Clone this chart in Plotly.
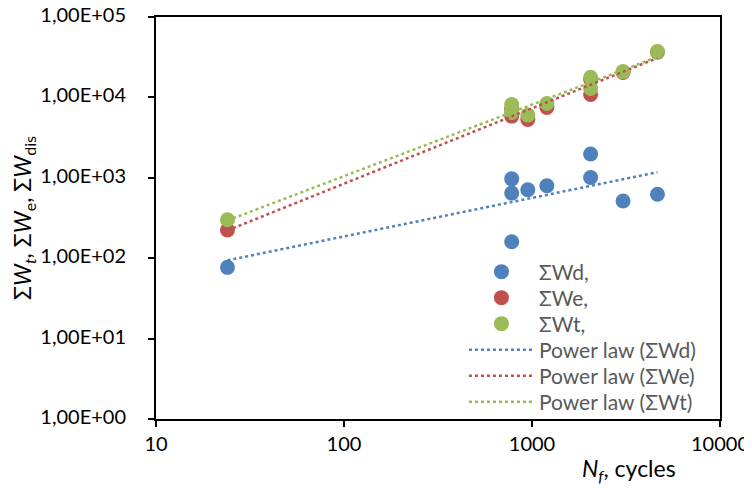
import numpy as np
import plotly.graph_objects as go

# Data
N_f = [24, 780, 780, 780, 950, 1200, 2050, 2050, 3050, 4650]
W_d = [77, 970, 645, 160, 710, 795, 1010, 1980, 515, 625]
W_e = [224, 7200, 5850, 6800, 5310, 7500, 16800, 10900, 20400, 36600]
W_t = [301, 8170, 6495, 6960, 6020, 8400, 17810, 12880, 20950, 37250]

y_tickvals = [1, 10, 100, 1000, 10000, 100000]
y_ticktext = ["1,00E+00", "1,00E+01", "1,00E+02", "1,00E+03", "1,00E+04", "1,00E+05"]
x_tickvals = [10, 100, 1000, 10000]
x_ticktext = ["10", "100", "1000", "10000"]

series = [
    ("ΣWd,", "Power law (ΣWd)", W_d, "#4F81BD"),
    ("ΣWe,", "Power law (ΣWe)", W_e, "#C0504D"),
    ("ΣWt,", "Power law (ΣWt)", W_t, "#9BBB59"),
]

FONT = "Lato, Carlito, Calibri, sans-serif"
# page body has an 8px margin; compensate
W, H = 744, 480
L, R, T, B = 148, 32, 9, 69
PW = W - L - R
PH = H - T - B

# legend rows (screen y of each entry centre)
ROW_Y = [272, 298, 324, 350, 376, 402]
legend_ids = ["legend", "legend2", "legend3", "legend4", "legend5", "legend6"]

fig = go.Figure()
k = 0
for i, (name, _, vals, col) in enumerate(series):
    fig.add_trace(go.Scatter(
        x=N_f, y=vals, mode="markers", name=name,
        marker=dict(size=15, color=col), legend=legend_ids[k],
    ))
    k += 1

x_arr = np.array(N_f, dtype=float)
for i, (_, tname, vals, col) in enumerate(series):
    b, a = np.polyfit(np.log10(x_arr), np.log10(np.array(vals, dtype=float)), 1)
    xs = np.array([x_arr.min(), x_arr.max()])
    ys = 10 ** (a + b * np.log10(xs))
    fig.add_trace(go.Scatter(
        x=xs, y=ys, mode="lines", name=tname,
        line=dict(color=col, width=2.5, dash="dot"), legend=legend_ids[k],
    ))
    k += 1

leg_common = dict(
    xanchor="left", yanchor="middle",
    bgcolor="rgba(0,0,0,0)", borderwidth=0,
    font=dict(family=FONT, size=21, color="#595959"),
    itemwidth=65,
)
legends = {}
for lid, ry in zip(legend_ids, ROW_Y):
    legends[lid] = dict(x=0.546, y=(T + 8 + PH - ry) / PH, **leg_common)

fig.update_layout(
    width=W, height=H,
    margin=dict(l=L, r=R, t=T, b=B, autoexpand=False),
    paper_bgcolor="white", plot_bgcolor="white",
    font=dict(family=FONT, size=20, color="#000000"),
    showlegend=True,
    annotations=[dict(
        text="<i>N<sub>f</sub></i>, cycles",
        x=(629 - 8 - L) / PW, xref="paper", y=0, yref="paper",
        showarrow=False, font=dict(family=FONT, size=23, color="#000000"),
        xanchor="center", yanchor="top", yshift=-33,
    )],
    **legends,
)

fig.update_xaxes(
    type="log", range=[1, 4], automargin=False,
    tickvals=x_tickvals, ticktext=x_ticktext, ticklabeloverflow="allow",
    showgrid=False, zeroline=False,
    showline=True, linecolor="#000000", linewidth=2, mirror=True,
    ticks="outside", ticklen=6, tickwidth=1.5, tickcolor="#000000",
    tickfont=dict(family=FONT, size=20, color="#000000"),
)
fig.update_yaxes(
    type="log", range=[0, 5], automargin=False,
    tickvals=y_tickvals, ticktext=y_ticktext, ticklabeloverflow="allow",
    ticklabelshift=-2,
    showgrid=False, zeroline=False,
    showline=True, linecolor="#000000", linewidth=2, mirror=True,
    ticks="outside", ticklen=6, tickwidth=1.5, tickcolor="#000000",
    ticklabelstandoff=18,
    tickfont=dict(family=FONT, size=20, color="#000000"),
    title=dict(
        text="Σ<i>W<sub>t</sub></i>, Σ<i>W</i><sub>e</sub>, Σ<i>W</i><sub>dis</sub>",
        font=dict(family=FONT, size=23, color="#000000"),
        standoff=12,
    ),
)

fig.write_html("out.html")
